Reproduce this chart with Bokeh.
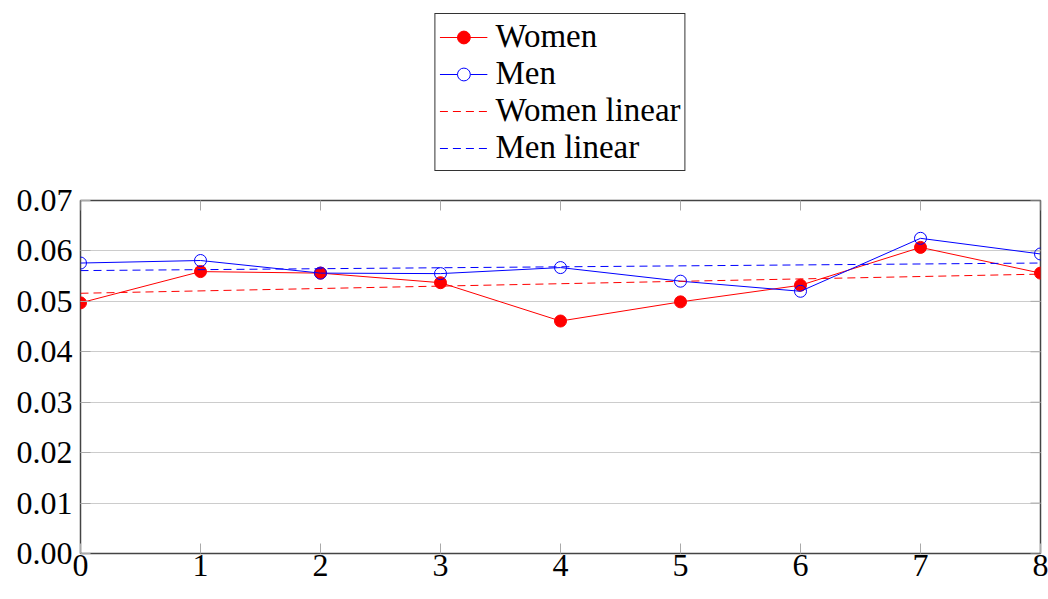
import math
from bokeh.plotting import figure
from bokeh.layouts import column
from bokeh.models import Legend, LegendItem, PrintfTickFormatter, FixedTicker, Range1d
from bokeh.embed import file_html
from bokeh.resources import INLINE

x = [0, 1, 2, 3, 4, 5, 6, 7, 8]
women = [0.0497, 0.0559, 0.0556, 0.0537, 0.0461, 0.0499, 0.0532, 0.0607, 0.0556]
men = [0.0576, 0.0581, 0.0556, 0.0555, 0.0567, 0.0540, 0.0520, 0.0625, 0.0594]
trend_x = [0, 8]
women_linear = [0.0516, 0.0554]
men_linear = [0.0561, 0.0576]
y_ticks = [0.0, 0.01, 0.02, 0.03, 0.04, 0.05, 0.06, 0.07]
series_labels = ["Women", "Men", "Women linear", "Men linear"]

FONT = "Liberation Serif"
FS = "32px"
RED = "#ff0000"
BLUE = "#0000ff"
TICK = "#aaaaaa"
DASH = "8 5"

p = figure(frame_width=960, frame_height=353, output_backend="svg", toolbar_location=None,
           x_range=Range1d(0, 8), y_range=Range1d(0, 0.07),
           min_border_left=80, min_border_right=8, min_border_top=18, min_border_bottom=44)

p.outline_line_color = "#444444"
p.outline_line_width = 1.5
p.xgrid.grid_line_color = None
p.ygrid.grid_line_color = "#cccccc"
p.ygrid.grid_line_width = 1

for ax in (p.xaxis[0], p.yaxis[0]):
    ax.axis_line_color = None
    ax.major_tick_in = 10
    ax.major_tick_out = 0
    ax.minor_tick_in = 0
    ax.minor_tick_out = 0
    ax.major_tick_line_color = TICK
    ax.major_label_text_font = FONT
    ax.major_label_text_font_size = FS
    ax.major_label_text_color = "black"

p.xaxis.major_label_standoff = 1
p.yaxis.major_label_standoff = 8
p.xaxis.ticker = FixedTicker(ticks=x)
p.yaxis.ticker = FixedTicker(ticks=y_ticks)
p.yaxis.formatter = PrintfTickFormatter(format="%.2f")

# mirrored inward ticks on the top and right edges (half of each dash is clipped)
p.scatter(x, [p.y_range.end] * len(x), marker="dash", angle=math.pi / 2, size=20,
          line_color=TICK, line_width=1)
p.scatter([p.x_range.end] * len(y_ticks), y_ticks, marker="dash", size=20,
          line_color=TICK, line_width=1)

p.line(x, women, line_color=RED, line_width=1)
p.scatter(x, women, marker="circle", size=12, fill_color=RED, line_color=RED)
p.line(x, men, line_color=BLUE, line_width=1)
p.scatter(x, men, marker="circle", size=12, fill_color="white", fill_alpha=0, line_color=BLUE, line_width=1)
p.line(trend_x, women_linear, line_color=RED, line_width=1, line_dash=DASH)
p.line(trend_x, men_linear, line_color=BLUE, line_width=1, line_dash=DASH)

# Legend figure above the plot (sample glyphs kept outside its visible range)
lf = figure(frame_width=960, frame_height=182, output_backend="svg", toolbar_location=None,
            x_range=Range1d(0, 1), y_range=Range1d(0, 1),
            min_border_left=80, min_border_right=8, min_border_top=0, min_border_bottom=0)
lf.axis.visible = False
lf.grid.visible = False
lf.outline_line_color = None

off = [-5, -6]
wl = lf.line(off, off, line_color=RED, line_width=1)
ws = lf.scatter(off, off, marker="circle", size=12, fill_color=RED, line_color=RED)
ml = lf.line(off, off, line_color=BLUE, line_width=1)
ms = lf.scatter(off, off, marker="circle", size=12, fill_color="white", line_color=BLUE)
wlin = lf.line(off, off, line_color=RED, line_width=1, line_dash=DASH)
mlin = lf.line(off, off, line_color=BLUE, line_width=1, line_dash=DASH)

legend = Legend(items=[
    LegendItem(label=series_labels[0], renderers=[wl, ws]),
    LegendItem(label=series_labels[1], renderers=[ml, ms]),
    LegendItem(label=series_labels[2], renderers=[wlin]),
    LegendItem(label=series_labels[3], renderers=[mlin]),
], location="top_center")
legend.border_line_color = "#333333"
legend.border_line_width = 1
legend.border_line_alpha = 1
legend.background_fill_alpha = 1
legend.label_text_font = FONT
legend.label_text_font_size = "33px"
legend.label_text_color = "black"
legend.label_height = 32
legend.glyph_height = 32
legend.glyph_width = 48
legend.spacing = 0
legend.padding = 4
legend.margin = 13
legend.label_standoff = 8
lf.add_layout(legend, "center")

layout = column(lf, p, spacing=0)
open("out.html", "w").write(file_html(layout, INLINE))
